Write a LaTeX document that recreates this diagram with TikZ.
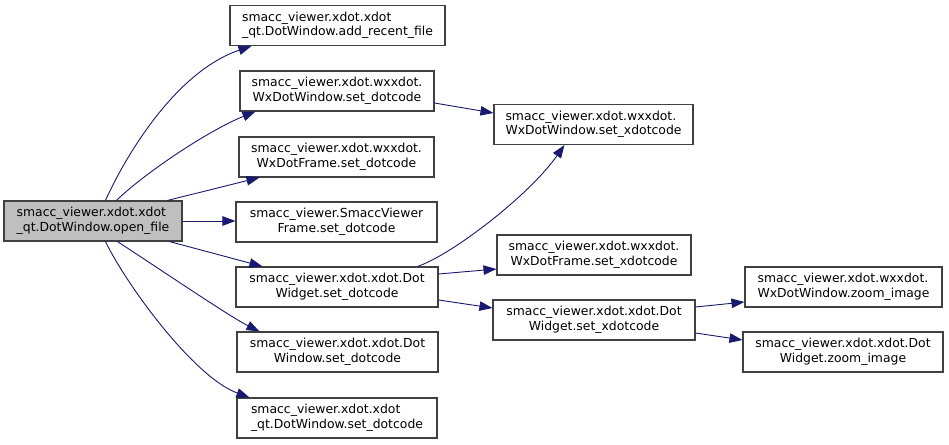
\documentclass[tikz,border=0pt]{standalone}
\usepackage{fontspec}
\setmainfont{DejaVu Sans}
\usetikzlibrary{arrows.meta}

\definecolor{edgeblue}{HTML}{191970}
\definecolor{nodegray}{HTML}{BFBFBF}

% first line left, second line centred
\newcommand{\fnname}[2]{\begin{tabular}{@{}l@{}}#1\\\multicolumn{1}{@{}c@{}}{#2}\end{tabular}}

\tikzset{
  fn/.style={draw=black!75, line width=1.1pt, fill=white, minimum height=40pt, inner sep=2pt,
    font=\fontsize{12.4}{14.5}\selectfont},
  call/.style={edgeblue, line width=0.9pt, -{Triangle[length=13pt,width=9.5pt]}},
}

\begin{document}
\begin{tikzpicture}[x=1pt, y=-1pt]
\useasboundingbox (0,0) rectangle (949,444);

% draw nodes
\node[fn, fill=nodegray, minimum width=178pt] (open) at (93,221) {\fnname{smacc\_viewer.xdot.xdot}{\_qt.DotWindow.open\_file}};

\node[fn, minimum width=215pt] (addrecent) at (337.5,25.5) {\fnname{smacc\_viewer.xdot.xdot}{\_qt.DotWindow.add\_recent\_file}};
\node[fn, minimum width=194pt] (wxwinset) at (337,91) {\fnname{smacc\_viewer.xdot.wxxdot.}{WxDotWindow.set\_dotcode}};
\node[fn, minimum width=195pt] (wxframeset) at (336.5,157) {\fnname{smacc\_viewer.xdot.wxxdot.}{WxDotFrame.set\_dotcode}};
\node[fn, minimum width=201pt] (smaccset) at (336.5,222) {\fnname{smacc\_viewer.SmaccViewer}{Frame.set\_dotcode}};
\node[fn, minimum width=202pt] (widgetset) at (337,287) {\fnname{smacc\_viewer.xdot.xdot.Dot}{Widget.set\_dotcode}};
\node[fn, minimum width=201pt] (dwinset) at (337.5,352) {\fnname{smacc\_viewer.xdot.xdot.Dot}{Window.set\_dotcode}};
\node[fn, minimum width=200pt] (qtset) at (337,418) {\fnname{smacc\_viewer.xdot.xdot}{\_qt.DotWindow.set\_dotcode}};

\node[fn, minimum width=199pt] (wxwinxset) at (593.5,124.5) {\fnname{smacc\_viewer.xdot.wxxdot.}{WxDotWindow.set\_xdotcode}};
\node[fn, minimum width=194pt] (wxframexset) at (594,255) {\fnname{smacc\_viewer.xdot.wxxdot.}{WxDotFrame.set\_xdotcode}};
\node[fn, minimum width=202pt] (widgetxset) at (594,320) {\fnname{smacc\_viewer.xdot.xdot.Dot}{Widget.set\_xdotcode}};

\node[fn, minimum width=197pt] (wxwinzoom) at (843.5,287) {\fnname{smacc\_viewer.xdot.wxxdot.}{WxDotWindow.zoom\_image}};
\node[fn, minimum width=200pt] (widgetzoom) at (843,352) {\fnname{smacc\_viewer.xdot.xdot.Dot}{Widget.zoom\_image}};

% calls from open_file
\draw[call] ([xshift=102pt]open.north west) .. controls +(19,-42) and +(-77,26) .. ([xshift=22pt]addrecent.south west);
\draw[call] ([xshift=113pt]open.north west) .. controls +(30,-29) and +(-45,18) .. ([xshift=16pt]wxwinset.south west);
\draw[call] ([xshift=164pt]open.north west) -- ([xshift=21pt]wxframeset.south west);
\draw[call] (open.east) -- (open.east -| smaccset.west);
\draw[call] ([xshift=166pt]open.south west) -- ([xshift=27pt]widgetset.north west);
\draw[call] ([xshift=114pt]open.south west) .. controls +(40,26) and +(-30,-15) .. ([xshift=23pt]dwinset.north west);
\draw[call] ([xshift=102pt]open.south west) .. controls +(22,45) and +(-55,-20) .. ([xshift=13pt]qtset.north west);

% second level
\draw[call] ([yshift=-12pt]wxwinset.east) -- ([yshift=11.5pt]wxwinxset.west);
\draw[call] ([xshift=-21pt]widgetset.north east) .. controls +(35,-12) and +(-35,50) .. ([xshift=71pt]wxwinxset.south west);
\draw[call] ([yshift=13pt]widgetset.east) -- ([yshift=-14pt]wxframexset.west);
\draw[call] ([yshift=-13pt]widgetset.east) -- ([yshift=12pt]widgetxset.west);

% third level
\draw[call] ([yshift=13pt]widgetxset.east) -- ([yshift=-15pt]wxwinzoom.west);
\draw[call] ([yshift=-13pt]widgetxset.east) -- ([yshift=12pt]widgetzoom.west);

\end{tikzpicture}
\end{document}
